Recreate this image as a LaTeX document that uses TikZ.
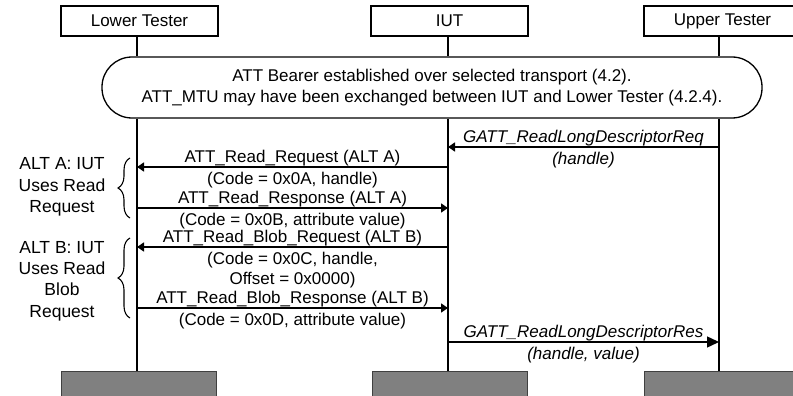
\documentclass[tikz,border=0pt]{standalone}
\usepackage{fontspec}
\setmainfont{Liberation Sans}
\usetikzlibrary{arrows.meta,decorations.pathreplacing,calc}
\begin{document}
\begin{tikzpicture}[x=1pt,y=-1pt,
  every node/.style={font=\fontsize{17}{20}\selectfont, inner sep=0pt},
  actor/.style={draw, line width=1.6pt, fill=white, minimum width=157pt, minimum height=30pt},
  basebox/.style={draw=black!75, line width=1pt, fill=black!50, minimum width=155pt, minimum height=30pt, anchor=north},
  life/.style={line width=1.8pt},
  msg/.style={line width=1.4pt, -{Triangle[length=7pt,width=9pt]}},
  bigmsg/.style={line width=1.4pt, -{Triangle[length=12pt,width=11pt]}},
  lbl/.style={anchor=base},
  sublbl/.style={anchor=base, align=center},
  altlbl/.style={align=center, font=\fontsize{17.5}{21.3}\selectfont},
  altbrace/.style={decorate, decoration={brace, amplitude=12pt}, line width=1.1pt},
]
\useasboundingbox (0,0) rectangle (793,396);

% actors
\node[actor] (lt) at (139.5,21) {Lower Tester};
\node[actor] (iut) at (449.5,21) {IUT};
\node[actor] (ut) at (722.5,21) {Upper Tester};

% bottom grey boxes
\node[basebox] (ltb) at (138.5,371) {};
\node[basebox] (iutb) at (449.5,371) {};
\node[basebox] (utb) at (721.5,371) {};

% bearer box
\node[draw, line width=1.3pt, rounded corners=30pt, minimum width=660pt, minimum height=61pt,
      fill=white, align=center, font=\fontsize{17}{21}\selectfont] (bearer) at (432,87.5)
  {ATT Bearer established over selected transport (4.2).\\
   ATT\_MTU may have been exchanged between IUT and Lower Tester (4.2.4).};

% lifeline x positions
\coordinate (xL) at (137,0);
\coordinate (xI) at (448,0);
\coordinate (xU) at (719,0);

% lifelines
\draw[life] (xL |- lt.south) -- (xL |- bearer.north);
\draw[life] (xI |- iut.south) -- (xI |- bearer.north);
\draw[life] (xU |- ut.south) -- (xU |- bearer.north);
\draw[life] (xL |- bearer.south) -- (xL |- ltb.north);
\draw[life] (xI |- bearer.south) -- (xI |- iutb.north);
\draw[life] (xU |- bearer.south) -- (xU |- utb.north);

% message points
\coordinate (U1) at (719,147); \coordinate (I1) at (448,147);
\coordinate (I2) at (448,167); \coordinate (L2) at (137,167);
\coordinate (L3) at (137,208); \coordinate (I3) at (448,208);
\coordinate (I4) at (448,247); \coordinate (L4) at (137,247);
\coordinate (L5) at (137,308); \coordinate (I5) at (448,308);
\coordinate (I6) at (448,342); \coordinate (U6) at (719,342);

% GATT request
\draw[msg] (U1) -- (I1);
\node[lbl, font=\fontsize{17}{20}\selectfont\itshape] (m1) at ($(U1)!0.5!(I1)+(0,-4.5)$) {GATT\_ReadLongDescriptorReq};
\node[sublbl, font=\fontsize{17}{20}\selectfont\itshape] (m1s) at ($(U1)!0.5!(I1)+(0,17.5)$) {(handle)};

% ATT read request
\draw[msg] (I2) -- (L2);
\node[lbl] (m2) at ($(I2)!0.5!(L2)+(0,-4.5)$) {ATT\_Read\_Request (ALT A)};
\node[sublbl] (m2s) at ($(I2)!0.5!(L2)+(0,17.5)$) {(Code = 0x0A, handle)};

% ATT read response
\draw[msg] (L3) -- (I3);
\node[lbl] (m3) at ($(L3)!0.5!(I3)+(0,-4.5)$) {ATT\_Read\_Response (ALT A)};
\node[sublbl] (m3s) at ($(L3)!0.5!(I3)+(0,17.5)$) {(Code = 0x0B, attribute value)};

% ATT read blob request
\draw[msg] (I4) -- (L4);
\node[lbl] (m4) at ($(I4)!0.5!(L4)+(0,-4.5)$) {ATT\_Read\_Blob\_Request (ALT B)};
\node[sublbl, anchor=north, font=\fontsize{17}{20}\selectfont] (m4s) at ($(I4)!0.5!(L4)+(0,4.5)$) {(Code = 0x0C, handle,\\Offset = 0x0000)};

% ATT read blob response
\draw[msg] (L5) -- (I5);
\node[lbl] (m5) at ($(L5)!0.5!(I5)+(0,-4.5)$) {ATT\_Read\_Blob\_Response (ALT B)};
\node[sublbl] (m5s) at ($(L5)!0.5!(I5)+(0,17.5)$) {(Code = 0x0D, attribute value)};

% GATT response
\draw[bigmsg] (I6) -- (U6);
\node[lbl, font=\fontsize{17}{20}\selectfont\itshape] (m6) at ($(I6)!0.5!(U6)+(0,-4.5)$) {GATT\_ReadLongDescriptorRes};
\node[sublbl, font=\fontsize{17}{20}\selectfont\itshape] (m6s) at ($(I6)!0.5!(U6)+(0,17.5)$) {(handle, value)};

% ALT braces
\coordinate (bAb) at (130,218); \coordinate (bAt) at (130,158);
\coordinate (bBb) at (130,318); \coordinate (bBt) at (130,238);
\draw[altbrace] (bAb) -- (bAt);
\draw[altbrace] (bBb) -- (bBt);
\node[altlbl] (altA) at (62,187) {ALT A: IUT\\Uses Read\\Request};
\node[altlbl] (altB) at (62,281) {ALT B: IUT\\Uses Read\\Blob\\Request};
\end{tikzpicture}
\end{document}
